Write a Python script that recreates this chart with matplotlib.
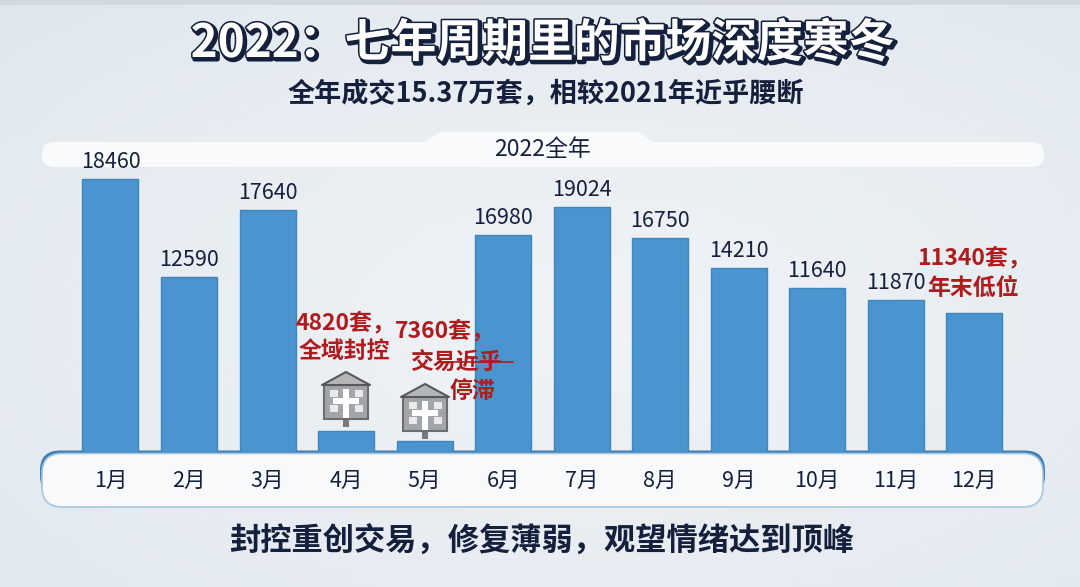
# -*- coding: utf-8 -*-
import numpy as np
import matplotlib
matplotlib.use('Agg')
import matplotlib.pyplot as plt
import matplotlib.patheffects as pe
from matplotlib.patches import FancyBboxPatch, Polygon, Rectangle

plt.rcParams['font.family'] = ['Noto Sans CJK SC', 'DejaVu Sans']

months = ['1月', '2月', '3月', '4月', '5月', '6月', '7月', '8月', '9月', '10月', '11月', '12月']
# printed numbers; the picture's bars are not in proportion to them
labels = ['18460', '12590', '17640', '', '', '16980', '19024', '16750', '14210', '11640', '11870', '']
# heights
heights = [18460, 11830, 16360, 1420, 745, 14670, 16560, 14470, 12440, 11090, 10280, 9400]

W, H = 1080, 587
DARK = '#14203c'
RED = '#b01c1e'
BLUE = '#4a94cf'
COMMA = '\uff0c'
COLON = '\uff1a'

fig = plt.figure(figsize=(W / 100, H / 100), dpi=100)

# background + panels, in pixel coordinates
bg = fig.add_axes([0, 0, 1, 1])
bg.set_xlim(0, W)
bg.set_ylim(H, 0)
bg.axis('off')
yy, xx = np.mgrid[0:1:60j, 0:1:110j]
shade = 1 - 0.75 * ((xx - 0.55) ** 2 + (yy - 0.55) ** 2) ** 0.5
bg.imshow(shade, extent=(0, W, H, 0), aspect='auto', vmin=0, vmax=1, zorder=0,
          cmap=matplotlib.colors.LinearSegmentedColormap.from_list('bg', ['#d3e0ea', '#f1f3f6']))
bg.add_patch(Rectangle((0, 0), W, 5, color='#d3d8dc', zorder=1, lw=0))

bg.add_patch(FancyBboxPatch((42, 142), 1002, 25, boxstyle='round,pad=0,rounding_size=12',
                            fc='#f8fafb', ec='none', zorder=2))
bg.add_patch(Polygon([(425, 142), (440, 132), (640, 132), (652, 142)], fc='#f8fafb', ec='none', zorder=2))
# blue rim behind the month strip shows along its top edge
bg.add_patch(FancyBboxPatch((40, 450.5), 1005, 45, boxstyle='round,pad=0,rounding_size=20',
                            fc='#3f7fb5', ec='none', zorder=2))
bg.add_patch(FancyBboxPatch((42, 453.5), 1001, 53.5, boxstyle='round,pad=0,rounding_size=20',
                            fc='#f7f9fb', ec='#a9c6dc', lw=1.2, zorder=3))

bg.text(543, 44, '2022' + COLON + '七年周期里的市场深度寒冬', ha='center', va='center', fontsize=33, weight='bold',
        color='white', zorder=5,
        path_effects=[pe.Stroke(linewidth=3.5, foreground=DARK, offset=(1.5, -1.5)),
                      pe.Stroke(linewidth=2.2, foreground=DARK), pe.Normal()])
bg.text(546, 94, '全年成交15.37万套' + COMMA + '相较2021年近乎腰断', ha='center', va='center',
        fontsize=19.5, weight='bold', color=DARK, zorder=5)
bg.text(542, 150, '2022全年', ha='center', va='center', fontsize=16.5, color=DARK, zorder=5)
bg.text(542, 541, '封控重创交易' + COMMA + '修复薄弱' + COMMA + '观望情绪达到顶峰', ha='center', va='center',
        fontsize=22.5, weight='bold', color=DARK, zorder=5)

# bars
ax = fig.add_axes([0, (H - 452) / H, 1, 352 / H])
ax.patch.set_alpha(0)
step = 78.5
ax.set_xlim(-110.5 / step, (W - 110.5) / step)
ax.set_ylim(0, 352 * 67.6)
x = np.arange(len(months))
ax.bar(x, heights, width=56 / step, color=BLUE, edgecolor='#3f86bd', linewidth=1, joinstyle='round')
for i, lab in enumerate(labels):
    if lab:
        ax.annotate(lab, (x[i], heights[i]), xytext=(0, 12), textcoords='offset points',
                    ha='center', va='center', fontsize=15.5, color=DARK)
ax.set_xticks(x, months, fontsize=15.5, color=DARK)
ax.tick_params(axis='x', length=0, pad=13)
ax.set_yticks([])
for s in ax.spines.values():
    s.set_visible(False)

# overlay for callouts and houses
top = fig.add_axes([0, 0, 1, 1])
top.patch.set_alpha(0)
top.set_xlim(0, W)
top.set_ylim(H, 0)
top.axis('off')


def house(cx, ytop):
    top.add_patch(Rectangle((cx - 3, ytop + 46), 6, 9, fc='#777b7d', ec='none'))
    top.add_patch(Rectangle((cx - 22, ytop + 13), 44, 34, fc='#a3a6a8', ec='#6a6e70', lw=1.5))
    top.add_patch(Polygon([(cx, ytop), (cx - 24, ytop + 13), (cx + 24, ytop + 13)],
                          closed=True, fc='#b4b6b8', ec='#55595b', lw=1.5, joinstyle='round'))
    for dx, dy in [(-16, 18), (9, 18), (-16, 33), (9, 33)]:
        top.add_patch(Rectangle((cx + dx, ytop + dy), 8, 7, fc='#e8eaeb', ec='none'))
    top.add_patch(Rectangle((cx - 3, ytop + 17), 6, 29, fc='white', ec='none'))
    top.add_patch(Rectangle((cx - 13, ytop + 26), 26, 6, fc='white', ec='none'))


house(346, 372)
house(425, 384)

kw = dict(ha='center', va='center', fontsize=16.5, color=RED, weight='bold')
top.text(345, 323, '4820套' + COMMA, **kw)
top.text(344, 352, '全域封控', **kw)
top.text(445, 331, '7360套' + COMMA, **kw)
top.text(457, 362, '交易近乎', **kw)
top.plot([452, 513], [362, 362], color=RED, lw=1.2)
top.text(472, 392, '停滞', **kw)
top.text(974, 258, '11340套' + COMMA, **kw)
top.text(973, 288, '年末低位', **kw)

fig.savefig('out.png', dpi=100)
